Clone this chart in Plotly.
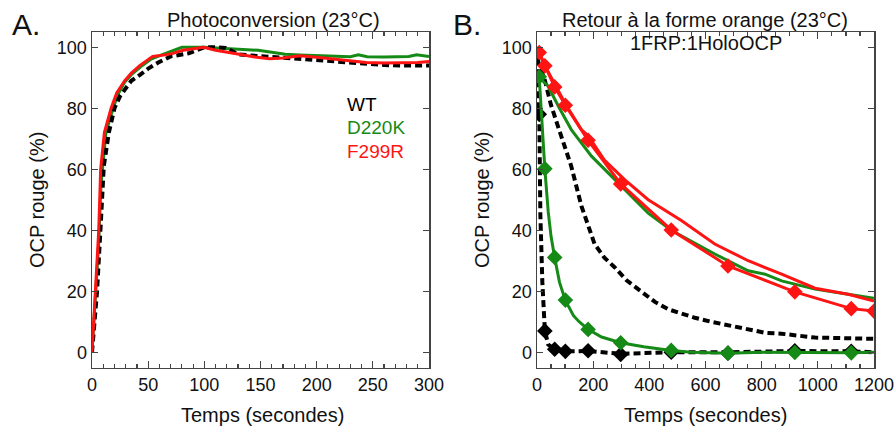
import plotly.graph_objects as go

# ---------------- Panel A data: Photoconversion ----------------
a_wt_t = [0, 2, 4.5, 7.5, 10.5, 15, 20, 25, 29, 35, 43, 50, 59, 70, 86, 100, 110, 119, 131, 145, 158, 172, 185, 200, 215, 230, 244, 260, 274, 290, 300]
a_wt_v = [0, 10, 20, 40, 61, 72, 80, 84, 86, 89, 91, 93, 95, 97, 98, 100, 100, 99.8, 97.6, 97.2, 96.8, 96.5, 96.2, 95.8, 95.3, 95, 94.6, 94.2, 94, 94, 94]

a_d220k_t = [0, 3, 6, 8, 12.4, 18.8, 23, 29, 35, 43, 52, 62, 72, 80, 90, 100, 115, 128, 148, 157, 172, 185, 200, 215, 230, 237, 245, 260, 274, 282, 289, 300]
a_d220k_v = [0, 18, 36, 55, 72, 80, 84.5, 88.5, 91, 93.5, 96, 97.5, 99, 100, 100, 100, 99.7, 99.5, 99, 98.5, 97.7, 97.5, 97.3, 96.9, 96.9, 97.5, 96.9, 96.8, 96.8, 97, 97.5, 97]

a_f299r_t = [0, 3, 6, 7.7, 11, 17, 22, 29, 35, 42.5, 54, 65, 72, 81, 90, 99.5, 110, 120, 131, 145, 158, 170, 185, 200, 215, 230, 244, 260, 274, 290, 300]
a_f299r_v = [0, 20, 40, 60, 72, 80, 85, 89, 91.5, 94, 97, 97.5, 98, 99, 99.5, 100, 99, 98.5, 97.7, 96.8, 96.2, 96.5, 97.2, 96.7, 96.1, 95.5, 95, 94.8, 94.8, 95, 95.3]

# ---------------- Panel B data: Retour a la forme orange ----------------
b_wt_fast_t = [0, 2, 8, 12, 19, 28, 40, 63, 101, 182, 298, 478, 680, 918, 1119, 1200]
b_wt_fast_v = [100, 98, 78, 45, 23, 7, 2.5, 1, 0.3, 0.4, -0.5, 0, 0, 0.4, 0.3, 0]
b_wt_mk_t = [8, 28, 63, 101, 182, 298, 478, 680, 918, 1119]
b_wt_mk_v = [78, 7, 1, 0.3, 0.5, -0.7, 0, -0.3, 0.5, 0.3]

b_wt_slow_t = [0, 5, 27, 50, 75, 100, 122, 158, 205, 240, 277, 320, 372, 420, 467, 520, 562, 620, 693, 750, 811, 870, 930, 990, 1050, 1100, 1150, 1200]
b_wt_slow_v = [100, 95, 89.5, 81, 74, 67, 61, 48, 35.5, 31, 27.8, 23.5, 20, 16.5, 14.1, 12.5, 11.3, 10, 8.6, 7.5, 6.4, 6.1, 5.6, 4.8, 4.7, 4.6, 4.5, 4.4]

b_d220k_fast_t = [8, 15, 28, 40, 50, 63, 80, 101, 130, 150, 182, 230, 298, 380, 478, 550, 680, 800, 918, 1000, 1119, 1200]
b_d220k_fast_v = [90, 78, 60, 46, 38, 31, 23, 17, 12, 10, 7.5, 5, 3.1, 1.8, 0.6, 0, -0.3, 0, -0.1, 0, -0.2, 0]
b_d220k_mk_t = [8, 28, 63, 101, 182, 298, 478, 680, 918, 1119]
b_d220k_mk_v = [90.3, 60.2, 31.1, 17.1, 7.5, 3.1, 0.6, -0.3, -0.1, -0.2]

b_d220k_slow_t = [8, 39, 80, 122, 194, 277, 396, 478, 633, 752, 812, 871, 990, 1108, 1200]
b_d220k_slow_v = [90, 87.3, 80, 73, 64.3, 56.6, 45.6, 40, 32.2, 26.7, 25.6, 23.4, 20.7, 19, 17.7]

b_f299r_slow_t = [0, 8, 28, 63, 101, 158, 182, 240, 312, 396, 514, 633, 752, 871, 990, 1108, 1200]
b_f299r_slow_v = [100, 98.3, 94, 88, 81.5, 73, 71, 63, 56.6, 50, 43.2, 35.5, 30, 25.6, 21, 19, 16.8]

b_f299r_mk_t = [8, 28, 63, 101, 182, 298, 478, 680, 918, 1119, 1200]
b_f299r_mk_v = [98.3, 93.9, 87, 81, 69.5, 55.2, 40.1, 28.3, 19.8, 14.3, 13.5]

x_ticks_a = [0, 50, 100, 150, 200, 250, 300]
x_ticks_b = [0, 200, 400, 600, 800, 1000, 1200]
y_ticks = [0, 20, 40, 60, 80, 100]

legend_names = ["WT", "D220K", "F299R"]

BLACK = "#000000"
GREEN = "#168a16"
RED = "#ff1414"
FONT = "Liberation Sans, Arial, sans-serif"
W, H = 896, 428

def px(x):
    return x / W

def py(y):
    return 1 - y / H

fig = go.Figure()

def line(t, v, color, xa, ya, dash=None, width=3.0):
    fig.add_trace(go.Scatter(x=t, y=v, mode="lines", xaxis=xa, yaxis=ya,
                             line=dict(color=color, width=width, dash=dash),
                             showlegend=False, hoverinfo="skip"))

def markers(t, v, color, xa, ya):
    fig.add_trace(go.Scatter(x=t, y=v, mode="markers", xaxis=xa, yaxis=ya,
                             marker=dict(symbol="diamond", size=12, color=color),
                             showlegend=False, hoverinfo="skip"))

DASH = "7px,4px"
# Panel A
line(a_d220k_t, a_d220k_v, GREEN, "x", "y")
line(a_wt_t, a_wt_v, BLACK, "x", "y", dash=DASH, width=4)
line(a_f299r_t, a_f299r_v, RED, "x", "y")

# Panel B
line(b_wt_slow_t, b_wt_slow_v, BLACK, "x2", "y2", dash=DASH, width=4)
line(b_wt_fast_t, b_wt_fast_v, BLACK, "x2", "y2", dash=DASH, width=4)
markers(b_wt_mk_t, b_wt_mk_v, BLACK, "x2", "y2")
line(b_d220k_slow_t, b_d220k_slow_v, GREEN, "x2", "y2")
line(b_d220k_fast_t, b_d220k_fast_v, GREEN, "x2", "y2")
markers(b_d220k_mk_t, b_d220k_mk_v, GREEN, "x2", "y2")
line(b_f299r_slow_t, b_f299r_slow_v, RED, "x2", "y2")
line(b_f299r_mk_t, b_f299r_mk_v, RED, "x2", "y2")
markers(b_f299r_mk_t, b_f299r_mk_v, RED, "x2", "y2")

TICKFONT = dict(family=FONT, size=18, color="#111111")
AXCOL = "#444444"

def xaxis(dom, rng, ticks, minor, anchor):
    return dict(domain=dom, range=rng, anchor=anchor, tickmode="array", tickvals=ticks,
                ticktext=[str(t) for t in ticks], ticks="inside", ticklen=7, tickwidth=1.3,
                tickcolor=AXCOL, showline=True, linecolor=AXCOL, linewidth=1.5, mirror="allticks",
                showgrid=False, zeroline=False, tickfont=TICKFONT, automargin=False,
                ticklabeloverflow="allow",
                minor=dict(dtick=minor, tick0=0, ticks="inside", ticklen=4, tickwidth=1.2,
                           tickcolor=AXCOL, showgrid=False))

def yaxis(dom, anchor):
    return dict(domain=dom, range=[-5, 105], anchor=anchor, tickmode="array", tickvals=y_ticks,
                ticktext=[str(t) for t in y_ticks], ticks="inside", ticklen=6, tickwidth=1.3,
                tickcolor=AXCOL, showline=True, linecolor=AXCOL, linewidth=1.5, mirror="allticks",
                showgrid=False, zeroline=False, tickfont=TICKFONT, automargin=False)

ydom = [py(367.5), py(32)]
fig.update_layout(
    width=W, height=H, margin=dict(l=0, r=0, t=0, b=0, pad=0, autoexpand=False),
    paper_bgcolor="white", plot_bgcolor="white", hovermode=False,
    xaxis=xaxis([px(92), px(429)], [0, 300], x_ticks_a, 10, "y"),
    yaxis=yaxis(ydom, "x"),
    xaxis2=xaxis([px(537), px(874)], [0, 1200], x_ticks_b, 50, "y2"),
    yaxis2=yaxis(ydom, "x2"),
)

def ann(text, x, y, size=19, color="#111111", angle=0, xanchor="center"):
    fig.add_annotation(text=text, x=px(x), y=py(y), xref="paper", yref="paper",
                       showarrow=False, textangle=angle, xanchor=xanchor, yanchor="middle",
                       font=dict(family=FONT, size=size, color=color))

ann("A.", 10, 24, size=30, xanchor="left")
ann("B.", 451, 24, size=30, xanchor="left")
ann("Photoconversion (23°C)", 273, 20, size=20)
ann("Retour à la forme orange (23°C)", 705, 20, size=20)
ann("1FRP:1HoloOCP", 706, 43, size=20)
ann("Temps (secondes)", 262, 415, size=20)
ann("Temps (secondes)", 705, 415, size=20)
ann("OCP rouge (%)", 37, 200, angle=-90, size=20)
ann("OCP rouge (%)", 482, 200, angle=-90, size=20)
ann(legend_names[0], 345, 104, color=BLACK, xanchor="left")
ann(legend_names[1], 345, 127, color=GREEN, xanchor="left")
ann(legend_names[2], 345, 151, color=RED, xanchor="left")

# place the figure at the page's top-left corner (no default body margin, no scrollbars)
fig.write_html("out.html", config={"displayModeBar": False, "staticPlot": True},
               post_script="document.body.style.margin='0';document.body.style.overflow='hidden';")
